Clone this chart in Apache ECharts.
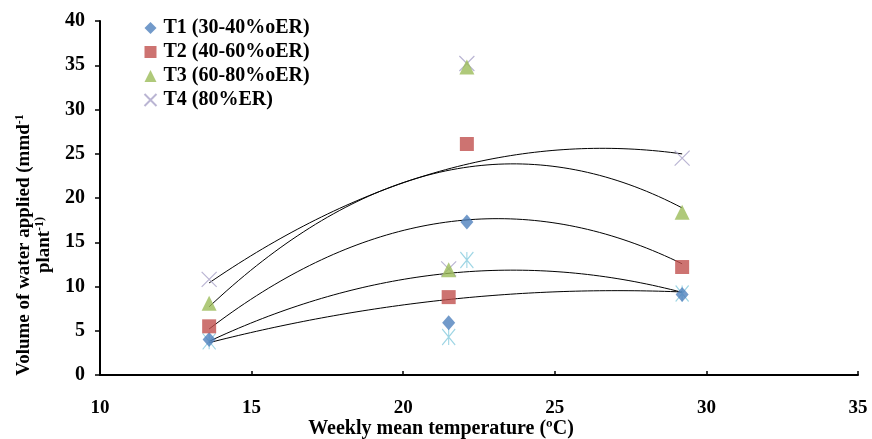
<!DOCTYPE html>
<html><head><meta charset="utf-8">
<script src="https://cdn.jsdelivr.net/npm/echarts@6/dist/echarts.min.js"></script>
<style>html,body{margin:0;padding:0;background:#fff}#c{width:872px;height:439px}</style>
</head><body><div id="c"></div>
<script>
// Data
const temps = [13.6, 21.5, 22.1, 29.2];
const t1 = [4.0, 5.9, 17.3, 9.1];
const t2 = [5.5, 8.8, 26.1, 12.2];
const t3 = [8.1, 11.9, 34.8, 18.4];
const t4 = [10.8, 12.0, 35.2, 24.5];
const t5 = [3.8, 4.3, 13.0, 9.2];
const seriesNames = ['T1 (30-40%oER)', 'T2 (40-60%oER)', 'T3 (60-80%oER)', 'T4 (80%ER)', 'T5'];
const xTicks = [10, 15, 20, 25, 30, 35];
const yTicks = [0, 5, 10, 15, 20, 25, 30, 35, 40];

function polyfit2(xs, ys) {
  let S = [0,0,0,0,0], T = [0,0,0];
  for (let i = 0; i < xs.length; i++) {
    let p = 1;
    for (let k = 0; k < 5; k++) { S[k] += p; if (k < 3) T[k] += p * ys[i]; p *= xs[i]; }
  }
  const A = [[S[0],S[1],S[2],T[0]],[S[1],S[2],S[3],T[1]],[S[2],S[3],S[4],T[2]]];
  for (let c = 0; c < 3; c++) {
    for (let r = c+1; r < 3; r++) {
      const f = A[r][c] / A[c][c];
      for (let k = c; k < 4; k++) A[r][k] -= f * A[c][k];
    }
  }
  const b = [0,0,0];
  for (let r = 2; r >= 0; r--) {
    let s = A[r][3];
    for (let k = r+1; k < 3; k++) s -= A[r][k] * b[k];
    b[r] = s / A[r][r];
  }
  return b;
}
function trend(ys) {
  const b = polyfit2(temps, ys);
  const out = [];
  const x0 = Math.min(...temps), x1 = Math.max(...temps);
  for (let i = 0; i <= 80; i++) { const x = x0 + (x1 - x0) * i / 80; out.push([x, b[0] + b[1]*x + b[2]*x*x]); }
  return out;
}
const pts = ys => temps.map((x, i) => [x, ys[i]]);

const F = '"Liberation Serif", "Times New Roman", serif';
const xPath = 'path://M0,0L10,10M10,0L0,10';
const starPath = 'path://M0,0L10,10M10,0L0,10M5,0L5,10';
const chart = echarts.init(document.getElementById('c'));
const lineS = ys => ({ type: 'line', data: trend(ys), showSymbol: false, symbol: 'none', silent: true,
  lineStyle: { color: '#000', width: 1 }, z: 1, legendHoverLink: false });
chart.setOption({
  animation: false,
  backgroundColor: '#fff',
  grid: { left: 100, right: 14, top: 21, bottom: 64, containLabel: false, outerBoundsMode: 'none' },
  legend: {
    orient: 'vertical', left: 137, top: 13, itemGap: 4, itemWidth: 12, itemHeight: 12,
    data: seriesNames.slice(0, 4),
    textStyle: { fontFamily: F, fontWeight: 'bold', fontSize: 20, color: '#000', padding: [0,0,0,2] }
  },
  xAxis: {
    type: 'value', min: 10, max: 35, interval: 5,
    name: 'Weekly mean temperature (\u00baC)', nameLocation: 'middle', nameGap: 44, nameMoveOverlap: false,
    nameTextStyle: { fontFamily: F, fontWeight: 'bold', fontSize: 20, color: '#000', padding: [0, 76, 0, 0] },
    axisLine: { lineStyle: { color: '#000', width: 2 } },
    axisTick: { inside: true, length: 4, lineStyle: { color: '#000', width: 1.5 } },
    axisLabel: { fontFamily: F, fontWeight: 'bold', fontSize: 19, color: '#000', margin: 24 },
    splitLine: { show: false }
  },
  yAxis: {
    type: 'value', min: 0, max: 40, interval: 5,
    name: 'Volume of water applied (mmd{s|-1}\nplant{s|-1)}', nameLocation: 'middle', nameGap: 46, nameRotate: 90,
    nameTextStyle: { fontFamily: F, fontWeight: 'bold', fontSize: 19, color: '#000', lineHeight: 20, padding: [0, 94, 0, 0],
      rich: { s: { fontFamily: F, fontWeight: 'bold', fontSize: 12, color: '#000', verticalAlign: 'top', lineHeight: 20 } } },
    axisLine: { lineStyle: { color: '#000', width: 2 } },
    axisTick: { inside: false, length: 5, lineStyle: { color: '#000', width: 1.5 } },
    axisLabel: { fontFamily: F, fontWeight: 'bold', fontSize: 20, color: '#000', margin: 15 },
    splitLine: { show: false }
  },
  series: [
    lineS(t1), lineS(t2), lineS(t3), lineS(t4), lineS(t5),
    { name: seriesNames[0], type: 'scatter', data: pts(t1), symbol: 'diamond', symbolSize: [13, 15], itemStyle: { color: '#4F81BD' }, z: 3 },
    { name: seriesNames[1], type: 'scatter', data: pts(t2), symbol: 'rect', symbolSize: 14, itemStyle: { color: '#C0504D' }, z: 3 },
    { name: seriesNames[2], type: 'scatter', data: pts(t3), symbol: 'triangle', symbolSize: 15, itemStyle: { color: '#9BBB59' }, z: 3 },
    { name: seriesNames[3], type: 'scatter', data: pts(t4), symbol: xPath, symbolSize: 15, itemStyle: { color: 'none', borderColor: '#A9A2C8', borderWidth: 1.2 }, z: 2 },
    { name: seriesNames[4], type: 'scatter', data: pts(t5), symbol: starPath, symbolSize: [13, 16], itemStyle: { color: 'none', borderColor: '#86CBDD', borderWidth: 1.2 }, z: 2 }
  ]
});
</script></body></html>
